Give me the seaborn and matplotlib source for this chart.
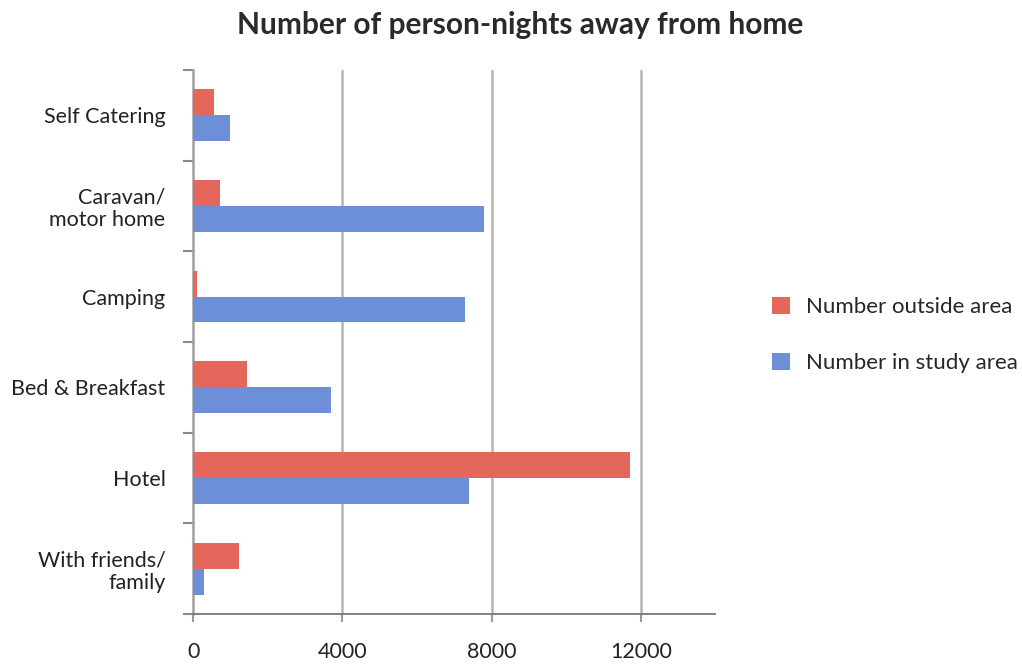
import matplotlib
matplotlib.use("Agg")
import matplotlib.pyplot as plt
import seaborn as sns
import pandas as pd
import numpy as np

categories = ["Self Catering", "Caravan/\nmotor home", "Camping",
              "Bed & Breakfast", "Hotel", "With friends/\nfamily"]
outside_area = [570, 720, 100, 1440, 11700, 1230]
study_area = [1000, 7800, 7300, 3700, 7400, 300]
series_names = ["Number outside area", "Number in study area"]
x_ticks = [0, 4000, 8000, 12000]

df = pd.DataFrame({
    "category": categories * 2,
    "value": outside_area + study_area,
    "series": [series_names[0]] * len(categories) + [series_names[1]] * len(categories),
})

sns.set_theme(style="white")
plt.rcParams["font.family"] = ["Lato", "DejaVu Sans"]

fig = plt.figure(figsize=(10.22, 6.64), dpi=100)
ax = fig.add_axes([0.189, 0.0753, 0.511, 0.8193])

palette = {series_names[0]: "#e3675b", series_names[1]: "#6d8fd8"}
sns.barplot(data=df, y="category", x="value", hue="series", order=categories,
            hue_order=series_names, palette=palette, orient="h",
            width=0.57, saturation=1, linewidth=0, ax=ax, zorder=3, legend=True)

ax.set_xlim(0, 14000)
ax.set_ylim(len(categories) - 0.5, -0.5)
ax.set_xticks(x_ticks)
ax.set_xticklabels([str(t) for t in x_ticks], fontsize=15.5, color="#222222")
ax.set_xlabel("")
ax.set_ylabel("")

# vertical gridlines at the labelled ticks
for t in x_ticks[1:]:
    ax.axvline(t, color="#b5b5b5", lw=1.8, zorder=1)

# category labels, with short tick marks on the band boundaries
ax.set_yticks(range(len(categories)))
ax.set_yticklabels(categories, fontsize=15.5, color="#222222", ha="right",
                   linespacing=1.15)
ax.tick_params(axis="y", which="major", length=0, pad=20)
ax.set_yticks(np.arange(-0.5, len(categories), 1.0), minor=True)
ax.tick_params(axis="y", which="minor", length=7, width=1.5, color="#8a8a8a", left=True)
ax.tick_params(axis="x", which="major", length=6, width=1.5, color="#9a9a9a",
               bottom=True, pad=14)

for side in ["top", "right"]:
    ax.spines[side].set_visible(False)
ax.spines["left"].set_color("#a0a0a0")
ax.spines["left"].set_linewidth(1.8)
ax.spines["bottom"].set_color("#777777")
ax.spines["bottom"].set_linewidth(1.3)

ax.legend(loc="center left", bbox_to_anchor=(0.755, 0.4955),
          bbox_transform=fig.transFigure, frameon=False, borderpad=0,
          borderaxespad=0, fontsize=16, handlelength=0.85, handleheight=0.85,
          labelspacing=1.6, handletextpad=0.7)

fig.text(0.509, 0.962, "Number of person-nights away from home",
         ha="center", va="center", fontsize=21.5, fontweight="bold", color="#2a2a2a")

fig.savefig("out.png", dpi=100)
